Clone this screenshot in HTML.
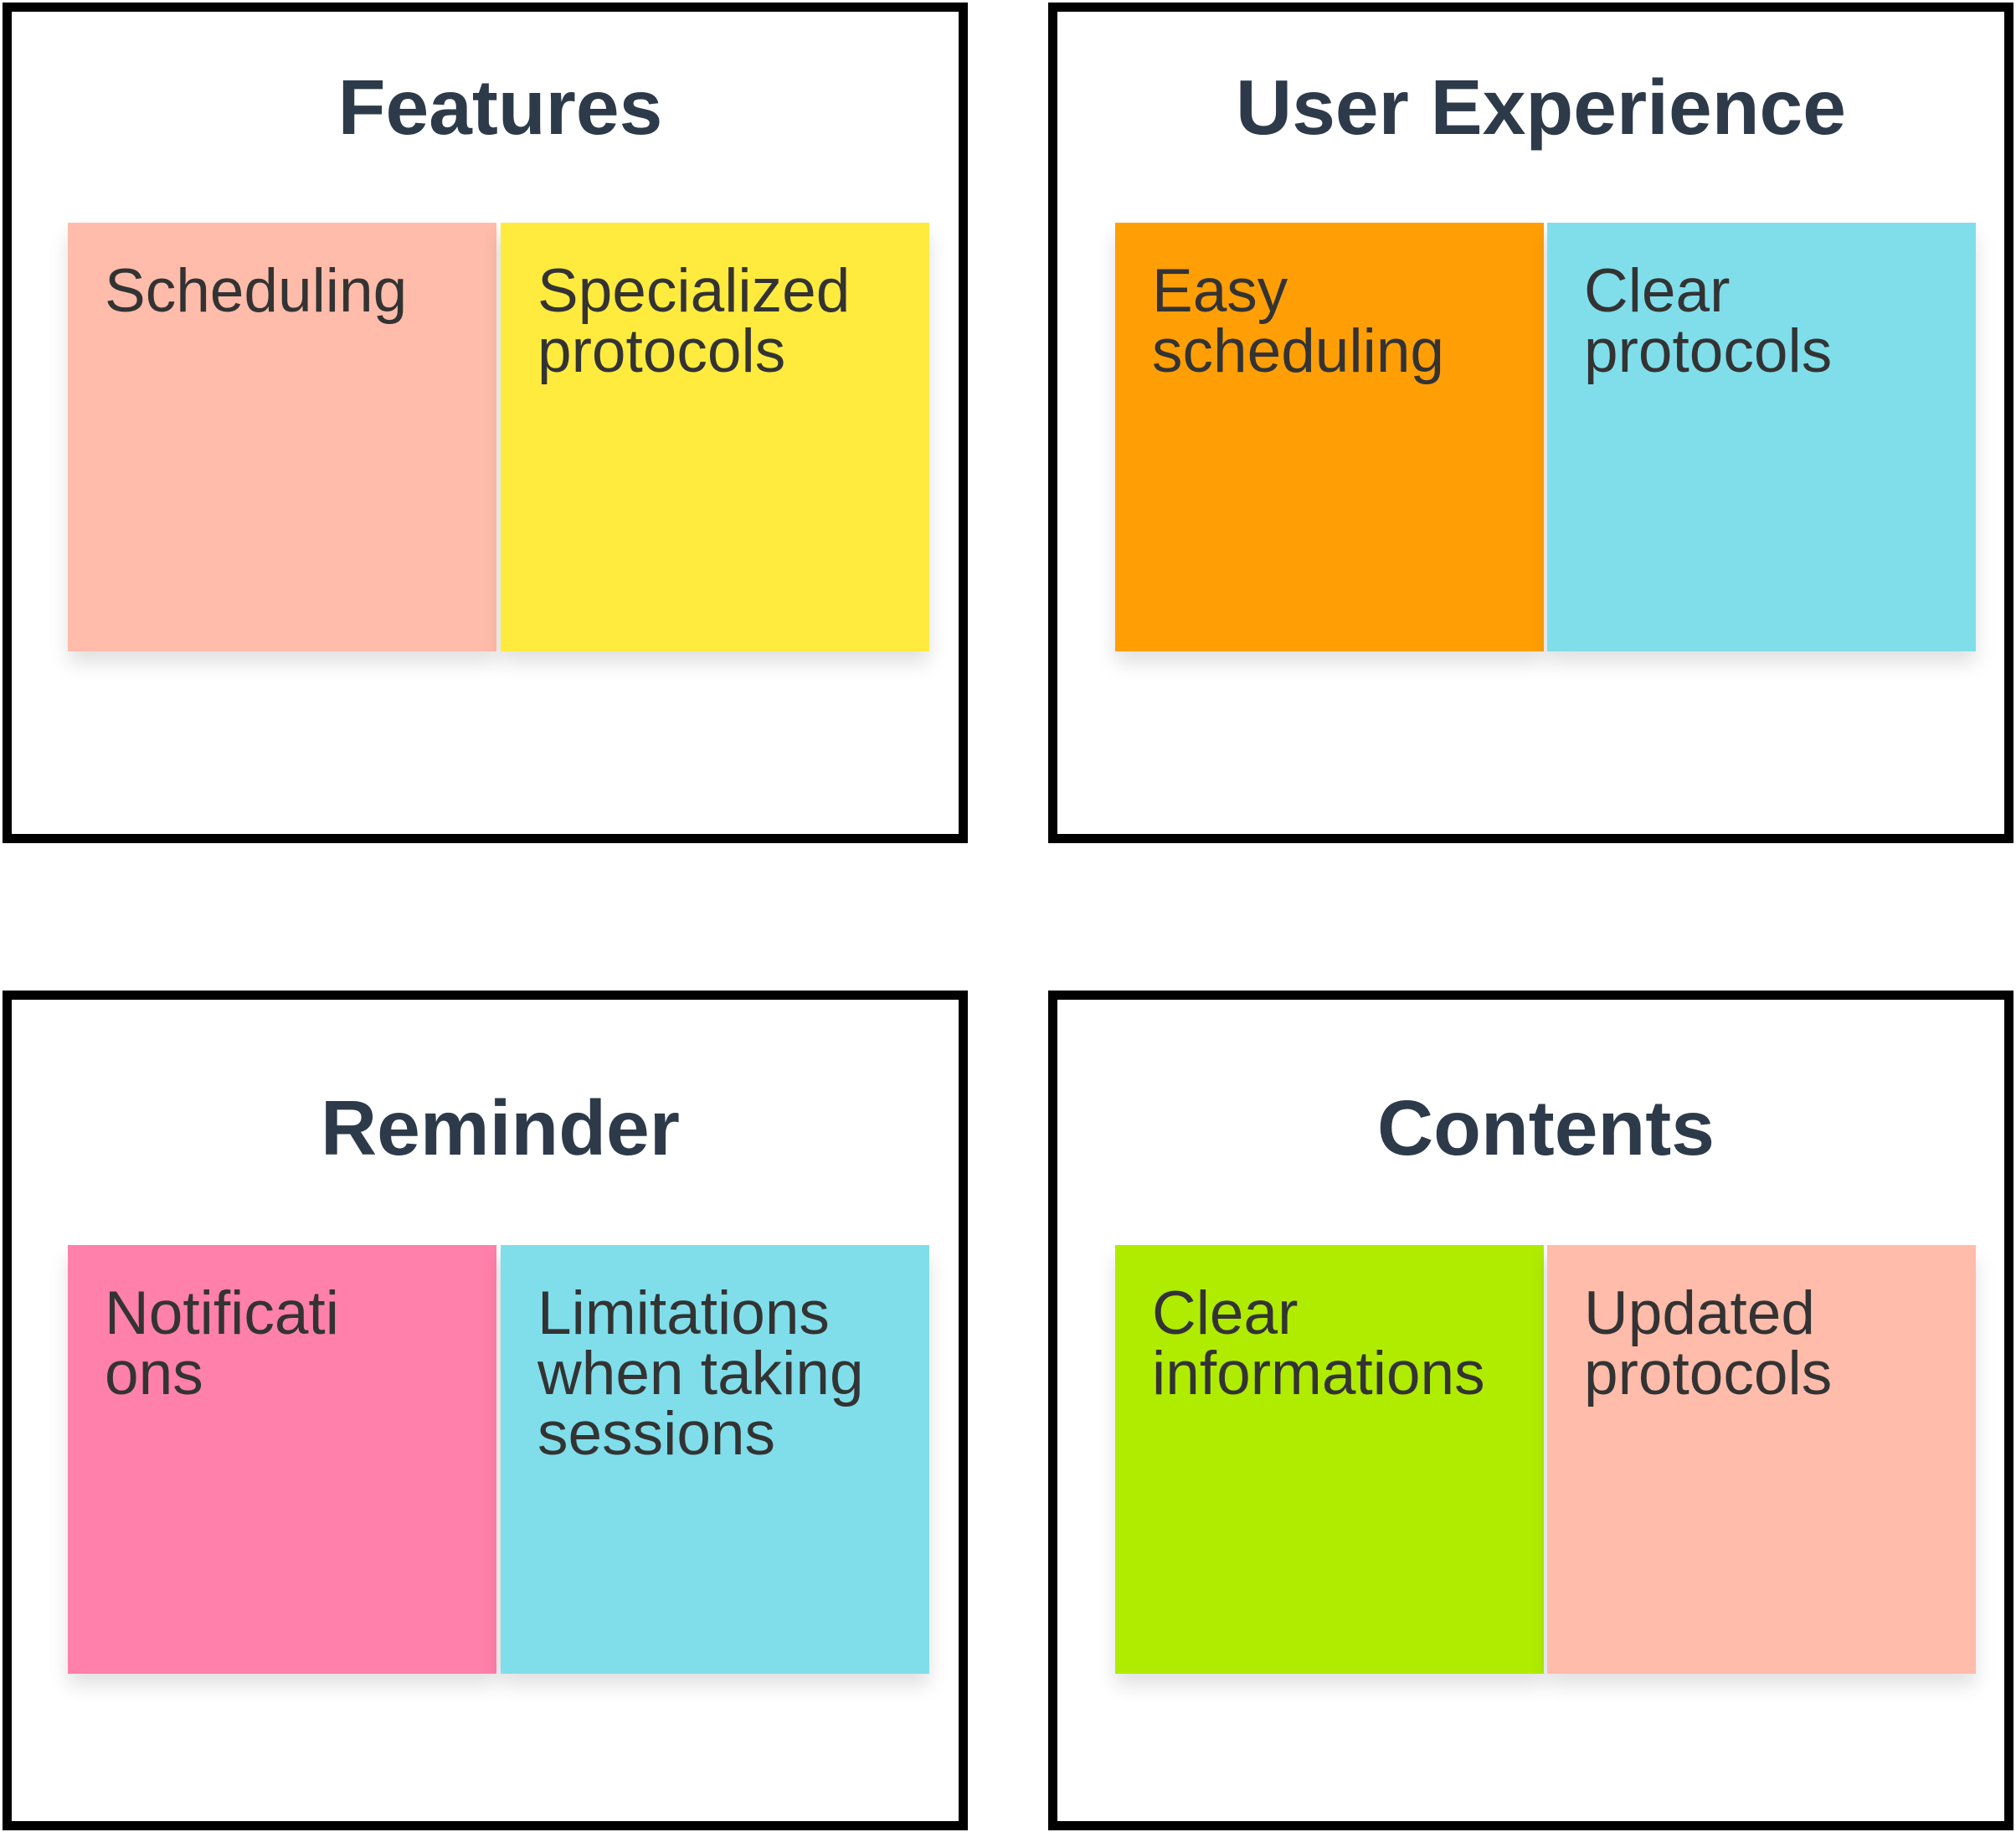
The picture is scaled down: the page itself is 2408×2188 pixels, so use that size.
<!DOCTYPE html>
<html><head><meta charset="utf-8"><style>
body{margin:0;width:2408px;height:2188px;background:#fff;position:relative;font-family:"Liberation Sans",sans-serif;overflow:hidden}
.box{position:absolute;border:11px solid #000;box-sizing:border-box;background:#fff}
.t{position:absolute;width:100%;text-align:center;font-weight:bold;font-size:93px;color:#2d3a4a;left:18px}
.s{position:absolute;width:512px;height:512px;box-sizing:border-box;padding:46px 0 0 44px;font-size:73px;line-height:72px;color:#333;box-shadow:0 14px 22px rgba(0,0,0,0.12)}
</style></head><body>
<div class="box" style="left:3px;top:3px;width:1153px;height:1004px"><div class="t" style="top:61px">Features</div></div>
<div class="box" style="left:1252px;top:3px;width:1153px;height:1004px"><div class="t" style="top:61px;left:12px">User Experience</div></div>
<div class="box" style="left:3px;top:1183px;width:1153px;height:1003px"><div class="t" style="top:100px">Reminder</div></div>
<div class="box" style="left:1252px;top:1183px;width:1153px;height:1003px"><div class="t" style="top:100px">Contents</div></div>

<div class="s" style="left:81px;top:266px;background:#ffbcaa">Scheduling</div>
<div class="s" style="left:598px;top:266px;background:#ffeb3d">Specialized<br>protocols</div>
<div class="s" style="left:1332px;top:266px;background:#ff9f05">Easy<br>scheduling</div>
<div class="s" style="left:1848px;top:266px;background:#80deea">Clear<br>protocols</div>

<div class="s" style="left:81px;top:1487px;background:#ff80aa">Notificati<br>ons</div>
<div class="s" style="left:598px;top:1487px;background:#80deea">Limitations<br>when taking<br>sessions</div>
<div class="s" style="left:1332px;top:1487px;background:#b0ec00">Clear<br>informations</div>
<div class="s" style="left:1848px;top:1487px;background:#ffbcaa">Updated<br>protocols</div>
</body></html>
